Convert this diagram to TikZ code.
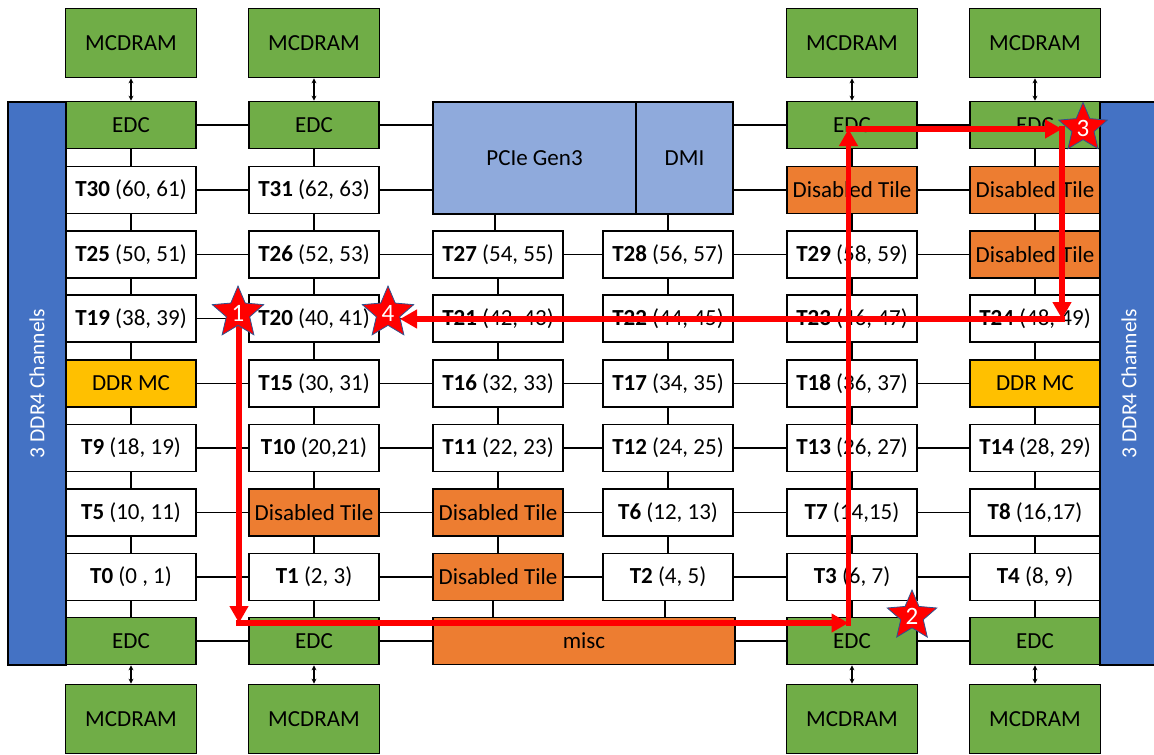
\documentclass[tikz,border=0pt]{standalone}
\usepackage{fontspec}
\setmainfont{Carlito}
\usetikzlibrary{arrows.meta,shapes.geometric}
\definecolor{grn}{HTML}{70AD47}
\definecolor{org}{HTML}{ED7D31}
\definecolor{ylw}{HTML}{FFC000}
\definecolor{lblue}{HTML}{8FAADC}
\definecolor{dblue}{HTML}{4472C4}
\definecolor{starline}{HTML}{2F528F}
\begin{document}
\begin{tikzpicture}[x=1pt,y=-1pt,
  box/.style={draw=black, line width=1.7pt, minimum width=130pt, minimum height=47pt, inner sep=0pt, font=\fontsize{23}{27}\selectfont},
  tile/.style={box, fill=white},
  grbox/.style={box, fill=grn},
  mcd/.style={box, fill=grn, minimum width=131pt, minimum height=69pt},
  dis/.style={box, fill=org},
  ddr/.style={box, fill=ylw},
  io/.style={box, fill=lblue, minimum height=112pt},
  sidebar/.style={draw=black, line width=1.7pt, fill=dblue, text=white, rotate=90, minimum width=563pt, minimum height=58pt, inner sep=0pt, font=\fontsize{21.5}{25}\selectfont},
  conn/.style={draw=black, line width=1.6pt},
  bidir/.style={draw=black, line width=1.2pt, {Stealth[length=5pt,width=5pt]}-{Stealth[length=5pt,width=5pt]}},
  redarr/.style={draw=red, line width=5.5pt, line cap=rect, -{Triangle[width=18pt,length=17pt]}},
  starnode/.style={star, star points=5, star point ratio=2.2, fill=red, draw=starline, line width=0.8pt, minimum size=54pt, inner sep=0pt, text=white, font=\fontsize{25}{29}\selectfont}
]
\useasboundingbox (0,0) rectangle (1154,755);

% side bars
\node[sidebar] (lbar) at (37,383.5) {3 DDR4 Channels};
\node[sidebar] (rbar) at (1129,383.5) {3 DDR4 Channels};

% MCDRAM top
\node[mcd] (mcA1) at (131,43) {MCDRAM};
\node[mcd] (mcB1) at (314,43) {MCDRAM};
\node[mcd] (mcE1) at (852,43) {MCDRAM};
\node[mcd] (mcF1) at (1035,43) {MCDRAM};

% row 0
\node[grbox] (eA0) at (131,125) {EDC};
\node[grbox] (eB0) at (314,125) {EDC};
\node[io, minimum width=203pt] (pcie) at (534.5,158) {PCIe Gen3};
\node[io, minimum width=97pt] (dmi) at (684.5,158) {DMI};
\node[grbox] (eE0) at (852,125) {EDC};
\node[grbox] (eF0) at (1035,125) {EDC};

% row 1
\node[tile] (t30) at (131,190) {\textbf{T30} (60, 61)};
\node[tile] (t31) at (314,190) {\textbf{T31} (62, 63)};
\node[dis] (dE1) at (852,190) {Disabled Tile};
\node[dis] (dF1) at (1035,190) {Disabled Tile};

% row 2
\node[tile] (t25) at (131,254.5) {\textbf{T25} (50, 51)};
\node[tile] (t26) at (314,254.5) {\textbf{T26} (52, 53)};
\node[tile] (t27) at (498,254.5) {\textbf{T27} (54, 55)};
\node[tile] (t28) at (668,254.5) {\textbf{T28} (56, 57)};
\node[tile] (t29) at (852,254.5) {\textbf{T29} (58, 59)};
\node[dis] (dF2) at (1035,254.5) {Disabled Tile};

% row 3
\node[tile] (t19) at (131,318.5) {\textbf{T19} (38, 39)};
\node[tile] (t20) at (314,318.5) {\textbf{T20} (40, 41)};
\node[tile] (t21) at (498,318.5) {\textbf{T21} (42, 43)};
\node[tile] (t22) at (668,318.5) {\textbf{T22} (44, 45)};
\node[tile] (t23) at (852,318.5) {\textbf{T23} (46, 47)};
\node[tile] (t24) at (1035,318.5) {\textbf{T24} (48, 49)};

% row 4
\node[ddr] (ddrA) at (131,383.5) {DDR MC};
\node[tile] (t15) at (314,383.5) {\textbf{T15} (30, 31)};
\node[tile] (t16) at (498,383.5) {\textbf{T16} (32, 33)};
\node[tile] (t17) at (668,383.5) {\textbf{T17} (34, 35)};
\node[tile] (t18) at (852,383.5) {\textbf{T18} (36, 37)};
\node[ddr] (ddrF) at (1035,383.5) {DDR MC};

% row 5
\node[tile] (t9) at (131,448) {\textbf{T9} (18, 19)};
\node[tile] (t10) at (314,448) {\textbf{T10} (20,21)};
\node[tile] (t11) at (498,448) {\textbf{T11} (22, 23)};
\node[tile] (t12) at (668,448) {\textbf{T12} (24, 25)};
\node[tile] (t13) at (852,448) {\textbf{T13} (26, 27)};
\node[tile] (t14) at (1035,448) {\textbf{T14} (28, 29)};

% row 6
\node[tile] (t5) at (131,512.5) {\textbf{T5} (10, 11)};
\node[dis] (dB6) at (314,512.5) {Disabled Tile};
\node[dis] (dC6) at (498,512.5) {Disabled Tile};
\node[tile] (t6) at (668,512.5) {\textbf{T6} (12, 13)};
\node[tile] (t7) at (852,512.5) {\textbf{T7} (14,15)};
\node[tile] (t8) at (1035,512.5) {\textbf{T8} (16,17)};

% row 7
\node[tile] (t0) at (131,577) {\textbf{T0} (0 , 1)};
\node[tile] (t1) at (314,577) {\textbf{T1} (2, 3)};
\node[dis] (dC7) at (498,577) {Disabled Tile};
\node[tile] (t2) at (668,577) {\textbf{T2} (4, 5)};
\node[tile] (t3) at (852,577) {\textbf{T3} (6, 7)};
\node[tile] (t4) at (1035,577) {\textbf{T4} (8, 9)};

% row 8
\node[grbox] (eA8) at (131,641) {EDC};
\node[grbox] (eB8) at (314,641) {EDC};
\node[dis, minimum width=302pt] (misc) at (584,641) {misc};
\node[grbox] (eE8) at (852,641) {EDC};
\node[grbox] (eF8) at (1035,641) {EDC};

% MCDRAM bottom
\node[mcd] (mcA9) at (131,719) {MCDRAM};
\node[mcd] (mcB9) at (314,719) {MCDRAM};
\node[mcd] (mcE9) at (852,719) {MCDRAM};
\node[mcd] (mcF9) at (1035,719) {MCDRAM};

% MCDRAM <-> EDC
\foreach \a/\b in {mcA1/eA0, mcB1/eB0, mcE1/eE0, mcF1/eF0, eA8/mcA9, eB8/mcB9, eE8/mcE9, eF8/mcF9}
  \draw[bidir] (\a) -- (\b);

% horizontal connectors (same row)
\foreach \a/\b in {eA0/eB0, eE0/eF0, t30/t31, dE1/dF1,
  t25/t26, t26/t27, t27/t28, t28/t29, t29/dF2,
  t19/t20, t20/t21, t21/t22, t22/t23, t23/t24,
  ddrA/t15, t15/t16, t16/t17, t17/t18, t18/ddrF,
  t9/t10, t10/t11, t11/t12, t12/t13, t13/t14,
  t5/dB6, dB6/dC6, dC6/t6, t6/t7, t7/t8,
  t0/t1, t1/dC7, dC7/t2, t2/t3, t3/t4,
  eA8/eB8, eB8/misc, misc/eE8, eE8/eF8}
  \draw[conn] (\a) -- (\b);

% connectors to I/O block
\draw[conn] (eB0.east) -- (eB0.east -| pcie.west);
\draw[conn] (t31.east) -- (t31.east -| pcie.west);
\draw[conn] (dmi.east |- eE0.west) -- (eE0.west);
\draw[conn] (dmi.east |- dE1.west) -- (dE1.west);
\draw[conn] ([xshift=-3pt]t27.north) -- ([xshift=-3pt]t27.north |- pcie.south);
\draw[conn] (t28.north) -- (t28.north |- dmi.south);

% vertical connectors
\foreach \a/\b in {eA0/t30, t30/t25, t25/t19, t19/ddrA, ddrA/t9, t9/t5, t5/t0, t0/eA8,
  eB0/t31, t31/t26, t26/t20, t20/t15, t15/t10, t10/dB6, dB6/t1, t1/eB8,
  t27/t21, t21/t16, t16/t11, t11/dC6, dC6/dC7,
  t28/t22, t22/t17, t17/t12, t12/t6, t6/t2,
  eE0/dE1, dE1/t29, t29/t23, t23/t18, t18/t13, t13/t7, t7/t3, t3/eE8,
  eF0/dF1, dF1/dF2, dF2/t24, t24/ddrF, ddrF/t14, t14/t8, t8/t4, t4/eF8}
  \draw[conn] (\a) -- (\b);
\draw[conn] ([xshift=-5pt]dC7.south) -- ([xshift=-5pt]dC7.south |- misc.north);
\draw[conn] ([xshift=-3pt]t2.south) -- ([xshift=-3pt]t2.south |- misc.north);

% red route
\coordinate (p1) at (239,313);
\coordinate (p2) at (239,623);
\coordinate (p3) at (848.5,623);
\coordinate (p4) at (848.5,129);
\coordinate (p5) at (1062,129);
\coordinate (p6) at (1062,319);
\coordinate (p7) at (400,319);
\draw[redarr] (p1) -- (p2);
\draw[redarr] (p2) -- (p3);
\draw[redarr] (p3) -- (p4);
\draw[redarr] (p4) -- (p5);
\draw[redarr] (p5) -- (p6);
\draw[redarr] (p6) -- (p7);

% stars
\node[starnode] (s1) at (238,313) {1};
\node[starnode] (s4) at (388,313) {4};
\node[starnode, minimum size=52pt] (s2) at (912,616) {2};
\node[starnode, minimum size=50pt] (s3) at (1083,128) {3};
\end{tikzpicture}
\end{document}
